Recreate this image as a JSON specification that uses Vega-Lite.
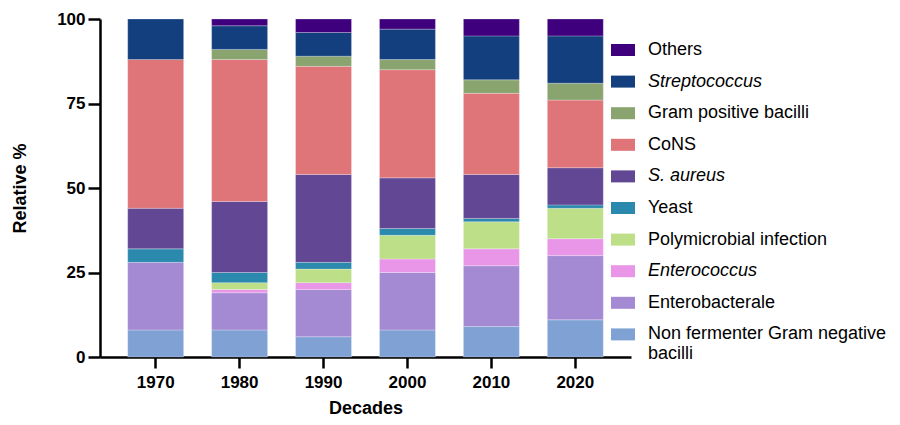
{
  "$schema": "https://vega.github.io/schema/vega-lite/v6.json",
  "autosize": "none",
  "width": 531,
  "height": 338,
  "padding": {"left": 100, "top": 19, "right": 269, "bottom": 68},
  "background": "white",
  "config": {
    "view": {"stroke": null},
    "font": "Liberation Sans",
    "axis": {
      "domainColor": "black", "domainWidth": 2.5, "tickColor": "black", "tickWidth": 2.5,
      "grid": false, "labelFont": "Liberation Sans", "labelFontWeight": "bold", "labelFontSize": 17,
      "labelColor": "black", "titleFont": "Liberation Sans", "titleFontWeight": "bold", "titleFontSize": 18, "titleColor": "black"
    }
  },
  "data": {
    "values": [
      {"decade": "1970", "category": "Non fermenter Gram negative bacilli", "value": 8},
      {"decade": "1970", "category": "Enterobacterale", "value": 20},
      {"decade": "1970", "category": "Yeast", "value": 4},
      {"decade": "1970", "category": "S. aureus", "value": 12},
      {"decade": "1970", "category": "CoNS", "value": 44},
      {"decade": "1970", "category": "Streptococcus", "value": 12},
      {"decade": "1980", "category": "Non fermenter Gram negative bacilli", "value": 8},
      {"decade": "1980", "category": "Enterobacterale", "value": 11},
      {"decade": "1980", "category": "Enterococcus", "value": 1},
      {"decade": "1980", "category": "Polymicrobial infection", "value": 2},
      {"decade": "1980", "category": "Yeast", "value": 3},
      {"decade": "1980", "category": "S. aureus", "value": 21},
      {"decade": "1980", "category": "CoNS", "value": 42},
      {"decade": "1980", "category": "Gram positive bacilli", "value": 3},
      {"decade": "1980", "category": "Streptococcus", "value": 7},
      {"decade": "1980", "category": "Others", "value": 2},
      {"decade": "1990", "category": "Non fermenter Gram negative bacilli", "value": 6},
      {"decade": "1990", "category": "Enterobacterale", "value": 14},
      {"decade": "1990", "category": "Enterococcus", "value": 2},
      {"decade": "1990", "category": "Polymicrobial infection", "value": 4},
      {"decade": "1990", "category": "Yeast", "value": 2},
      {"decade": "1990", "category": "S. aureus", "value": 26},
      {"decade": "1990", "category": "CoNS", "value": 32},
      {"decade": "1990", "category": "Gram positive bacilli", "value": 3},
      {"decade": "1990", "category": "Streptococcus", "value": 7},
      {"decade": "1990", "category": "Others", "value": 4},
      {"decade": "2000", "category": "Non fermenter Gram negative bacilli", "value": 8},
      {"decade": "2000", "category": "Enterobacterale", "value": 17},
      {"decade": "2000", "category": "Enterococcus", "value": 4},
      {"decade": "2000", "category": "Polymicrobial infection", "value": 7},
      {"decade": "2000", "category": "Yeast", "value": 2},
      {"decade": "2000", "category": "S. aureus", "value": 15},
      {"decade": "2000", "category": "CoNS", "value": 32},
      {"decade": "2000", "category": "Gram positive bacilli", "value": 3},
      {"decade": "2000", "category": "Streptococcus", "value": 9},
      {"decade": "2000", "category": "Others", "value": 3},
      {"decade": "2010", "category": "Non fermenter Gram negative bacilli", "value": 9},
      {"decade": "2010", "category": "Enterobacterale", "value": 18},
      {"decade": "2010", "category": "Enterococcus", "value": 5},
      {"decade": "2010", "category": "Polymicrobial infection", "value": 8},
      {"decade": "2010", "category": "Yeast", "value": 1},
      {"decade": "2010", "category": "S. aureus", "value": 13},
      {"decade": "2010", "category": "CoNS", "value": 24},
      {"decade": "2010", "category": "Gram positive bacilli", "value": 4},
      {"decade": "2010", "category": "Streptococcus", "value": 13},
      {"decade": "2010", "category": "Others", "value": 5},
      {"decade": "2020", "category": "Non fermenter Gram negative bacilli", "value": 11},
      {"decade": "2020", "category": "Enterobacterale", "value": 19},
      {"decade": "2020", "category": "Enterococcus", "value": 5},
      {"decade": "2020", "category": "Polymicrobial infection", "value": 9},
      {"decade": "2020", "category": "Yeast", "value": 1},
      {"decade": "2020", "category": "S. aureus", "value": 11},
      {"decade": "2020", "category": "CoNS", "value": 20},
      {"decade": "2020", "category": "Gram positive bacilli", "value": 5},
      {"decade": "2020", "category": "Streptococcus", "value": 14},
      {"decade": "2020", "category": "Others", "value": 5}
    ]
  },
  "transform": [
    {"calculate": "indexof(['Non fermenter Gram negative bacilli', 'Enterobacterale', 'Enterococcus', 'Polymicrobial infection', 'Yeast', 'S. aureus', 'CoNS', 'Gram positive bacilli', 'Streptococcus', 'Others'], datum.category)", "as": "stackRank"}
  ],
  "mark": {"type": "bar", "stroke": "white", "strokeWidth": 0.5, "strokeOpacity": 0.5},
  "encoding": {
    "x": {
      "field": "decade", "type": "ordinal",
      "scale": {"paddingInner": 0.3333, "paddingOuter": 0.33},
      "axis": {"title": "Decades", "labelAngle": 0, "tickSize": 11, "labelPadding": 6, "titleY": 56, "titleBaseline": "alphabetic"}
    },
    "y": {
      "field": "value", "type": "quantitative", "stack": "zero",
      "scale": {"domain": [0, 100], "nice": false},
      "axis": {"title": "Relative %", "values": [0, 25, 50, 75, 100], "tickSize": 12, "labelPadding": 3,
               "titleX": -80, "titleY": 169, "titleAngle": -90, "titleAlign": "center", "titleBaseline": "middle"}
    },
    "order": {"field": "stackRank", "type": "quantitative", "sort": "ascending"},
    "color": {
      "field": "category", "type": "nominal",
      "sort": ["Others", "Streptococcus", "Gram positive bacilli", "CoNS", "S. aureus", "Yeast", "Polymicrobial infection", "Enterococcus", "Enterobacterale", "Non fermenter Gram negative bacilli"],
      "scale": {
        "domain": ["Others", "Streptococcus", "Gram positive bacilli", "CoNS", "S. aureus", "Yeast", "Polymicrobial infection", "Enterococcus", "Enterobacterale", "Non fermenter Gram negative bacilli"],
        "range": ["#3f007d", "#133f7f", "#8aa46f", "#df7479", "#624794", "#2b89ad", "#bddf88", "#e995e8", "#a48ad3", "#7fa1d4"]
      },
      "legend": {
        "title": null, "orient": "none", "legendX": 511, "legendY": 19, "padding": 0,
        "symbolType": "M-1,-0.5L1,-0.5L1,0.5L-1,0.5Z", "symbolSize": 576, "symbolStrokeWidth": 0, "symbolOpacity": 1,
        "labelFont": "Liberation Sans", "labelFontSize": 18, "labelColor": "black", "labelOffset": 13, "labelLimit": 400,
        "rowPadding": 10.6,
        "labelFontStyle": {"expr": "datum.value === 'Streptococcus' || datum.value === 'S. aureus' || datum.value === 'Enterococcus' ? 'italic' : 'normal'"},
        "labelExpr": "datum.value == 'Non fermenter Gram negative bacilli' ? ['Non fermenter Gram negative', 'bacilli'] : datum.label",
        "encode": {
          "labels": {
            "update": {
              "lineHeight": {"value": 21},
              "dy": {"signal": "datum.value == 'Non fermenter Gram negative bacilli' ? 10.5 : 0"}
            }
          }
        }
      }
    }
  }
}
